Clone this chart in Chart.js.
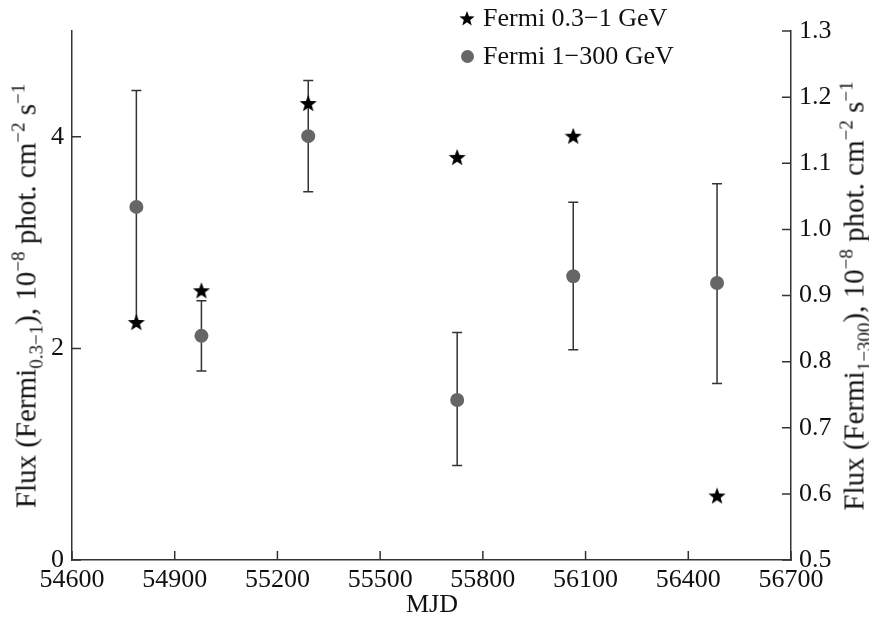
<!DOCTYPE html>
<html>
<head>
<meta charset="utf-8">
<script src="https://cdn.jsdelivr.net/npm/chart.js@4"></script>
<style>
  body { margin: 0; background: #fff; }
  #wrap { position: relative; width: 869px; height: 618px; font-family: "Liberation Serif", "DejaVu Serif", serif; color: #111; overflow: hidden; }
  .title { position: absolute; white-space: nowrap; font-size: 29px; line-height: 29px; }
  .vert { transform: translate(-50%, -50%) rotate(-90deg); }
  .title sub, .title sup { font-size: 19px; line-height: 0; }
  .legItem { position: absolute; left: 456px; height: 26px; display: flex; align-items: center; font-size: 26px; line-height: 26px; white-space: nowrap; }
  .legMark { width: 22px; height: 26px; display: flex; align-items: center; justify-content: center; margin-right: 5px; }
  .dot { width: 13px; height: 13px; border-radius: 50%; background: #666; }
</style>
</head>
<body>
<div id="wrap">
  <canvas id="chart" width="869" height="618"></canvas>
  <div class="title vert" style="left:26px; top:296px;">Flux (Fermi<sub>0.3−1</sub>), 10<sup>−8</sup> phot. cm<sup>−2</sup> s<sup>−1</sup></div>
  <div class="title vert" style="left:854px; top:296px;">Flux (Fermi<sub>1−300</sub>), 10<sup>−8</sup> phot. cm<sup>−2</sup> s<sup>−1</sup></div>
  <div class="title" style="left:432px; top:604px; font-size:26px; line-height:26px; transform: translate(-50%, -50%);">MJD</div>
  <div class="legItem" style="top:5px;"><div class="legMark"><canvas id="legStar" width="20" height="20"></canvas></div>Fermi 0.3−1 GeV</div>
  <div class="legItem" style="top:43px;"><div class="legMark"><div class="dot"></div></div>Fermi 1−300 GeV</div>
</div>
<script>
const mjd = [54788, 54978, 55290, 55725, 56064, 56484];
const fluxSoft = [2.25, 2.55, 4.32, 3.81, 4.01, 0.61];
const fluxHard = [1.034, 0.839, 1.141, 0.742, 0.929, 0.919];
const hardLow = [0.862, 0.786, 1.057, 0.643, 0.818, 0.767];
const hardHigh = [1.210, 0.892, 1.225, 0.844, 1.041, 1.069];
const xTicks = [54600, 54900, 55200, 55500, 55800, 56100, 56400, 56700];
const leftTicks = [0, 2, 4];
const rightTicks = [0.5, 0.6, 0.7, 0.8, 0.9, 1.0, 1.1, 1.2, 1.3];

const axisColor = '#333';
const tickFont = { family: 'Liberation Serif', size: 26 };

function drawStar(g, cx, cy, r, color) {
    g.fillStyle = color;
    g.beginPath();
    for (let i = 0; i < 10; i++) {
        const rad = i % 2 === 0 ? r : r * 0.42;
        const a = -Math.PI / 2 + i * Math.PI / 5;
        const px = cx + rad * Math.cos(a), py = cy + rad * Math.sin(a);
        if (i === 0) g.moveTo(px, py); else g.lineTo(px, py);
    }
    g.closePath();
    g.fill();
}

function makeStar(r, color) {
    const c = document.createElement('canvas');
    const s = Math.ceil(r * 2) + 2;
    c.width = c.height = s;
    drawStar(c.getContext('2d'), s / 2, s / 2 + 1, r, color);
    return c;
}

// legend star
drawStar(document.getElementById('legStar').getContext('2d'), 10, 11, 8, '#000');

// error bars for the 1-300 GeV points, drawn behind the markers
const errorBars = {
    id: 'errorBars',
    beforeDatasetsDraw(chart) {
        const { ctx, scales: { x, y1 } } = chart;
        ctx.save();
        ctx.strokeStyle = axisColor;
        ctx.lineWidth = 1.5;
        mjd.forEach((m, i) => {
            const px = x.getPixelForValue(m);
            const top = y1.getPixelForValue(hardHigh[i]);
            const bot = y1.getPixelForValue(hardLow[i]);
            ctx.beginPath();
            ctx.moveTo(px, top); ctx.lineTo(px, bot);
            ctx.moveTo(px - 5, top); ctx.lineTo(px + 5, top);
            ctx.moveTo(px - 5, bot); ctx.lineTo(px + 5, bot);
            ctx.stroke();
        });
        ctx.restore();
    }
};

// tick marks pointing into the plot
const innerTicks = {
    id: 'innerTicks',
    afterDraw(chart) {
        const { ctx, chartArea: a, scales: { x, y, y1 } } = chart;
        ctx.save();
        ctx.strokeStyle = axisColor;
        ctx.lineWidth = 1.5;
        ctx.beginPath();
        xTicks.forEach(v => { const p = x.getPixelForValue(v); ctx.moveTo(p, a.bottom); ctx.lineTo(p, a.bottom - 9); });
        leftTicks.forEach(v => { const p = y.getPixelForValue(v); ctx.moveTo(a.left, p); ctx.lineTo(a.left + 9, p); });
        rightTicks.forEach(v => { const p = y1.getPixelForValue(v); ctx.moveTo(a.right, p); ctx.lineTo(a.right - 9, p); });
        ctx.stroke();
        ctx.restore();
    }
};

new Chart(document.getElementById('chart').getContext('2d'), {
    type: 'scatter',
    data: {
        datasets: [{
            label: 'Fermi 0.3−1 GeV',
            data: mjd.map((m, i) => ({ x: m, y: fluxSoft[i] })),
            yAxisID: 'y',
            pointStyle: makeStar(9, '#000'),
            pointRadius: 9
        }, {
            label: 'Fermi 1−300 GeV',
            data: mjd.map((m, i) => ({ x: m, y: fluxHard[i] })),
            yAxisID: 'y1',
            pointStyle: 'circle',
            pointRadius: 7,
            backgroundColor: '#666',
            borderWidth: 0
        }]
    },
    options: {
        responsive: false,
        animation: false,
        layout: { padding: { top: 31 } },
        plugins: { legend: { display: false }, tooltip: { enabled: false } },
        scales: {
            x: {
                type: 'linear', position: 'bottom', min: 54600, max: 56700,
                afterBuildTicks: s => { s.ticks = xTicks.map(v => ({ value: v })); },
                afterFit: s => { s.height = 58; },
                ticks: { font: tickFont, color: '#111', padding: 5, maxRotation: 0, autoSkip: false, callback: v => String(v) },
                grid: { drawOnChartArea: false, drawTicks: false },
                border: { color: axisColor, width: 1.5 }
            },
            y: {
                position: 'left', min: 0, max: 5,
                afterBuildTicks: s => { s.ticks = leftTicks.map(v => ({ value: v })); },
                afterFit: s => { s.width = 72; },
                ticks: { font: tickFont, color: '#111', padding: 8 },
                grid: { drawOnChartArea: false, drawTicks: false },
                border: { color: axisColor, width: 1.5 }
            },
            y1: {
                position: 'right', min: 0.5, max: 1.3,
                afterBuildTicks: s => { s.ticks = rightTicks.map(v => ({ value: v })); },
                afterFit: s => { s.width = 78; },
                ticks: { font: tickFont, color: '#111', padding: 8, callback: v => v.toFixed(1) },
                grid: { drawOnChartArea: false, drawTicks: false },
                border: { color: axisColor, width: 1.5 }
            }
        }
    },
    plugins: [errorBars, innerTicks]
});
</script>
</body>
</html>
